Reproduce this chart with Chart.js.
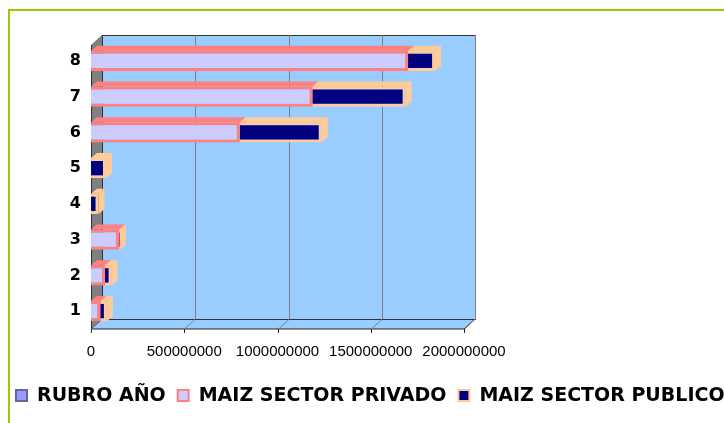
<!DOCTYPE html>
<html>
<head>
<meta charset="utf-8">
<script src="https://cdn.jsdelivr.net/npm/chart.js@4"></script>
<style>
  html, body { margin: 0; padding: 0; background: #fff; overflow: hidden; }
  #frame { position: absolute; left: 8px; top: 9px; width: 800px; height: 500px; border: 2px solid #99cc00; }
  #wrap { position: absolute; left: 0; top: 0; width: 724px; height: 423px; }
</style>
</head>
<body>
<div id="frame"></div>
<div id="wrap"><canvas id="chart" width="724" height="423"></canvas></div>
<script>
'use strict';

var categories = ['1', '2', '3', '4', '5', '6', '7', '8'];
var rubroAnio = [2000, 2001, 2002, 2003, 2004, 2005, 2006, 2007];
var maizPrivado = [50000000, 75000000, 150000000, 0, 0, 797000000, 1187000000, 1700000000];
var maizPublico = [35000000, 35000000, 5000000, 40000000, 80000000, 440000000, 500000000, 145000000];
var xTicks = [0, 500000000, 1000000000, 1500000000, 2000000000];

var ctx = document.getElementById('chart').getContext('2d');

// fake excel style 3d walls and bar sides
var walls3d = {
  id: 'walls3d',
  beforeDatasetsDraw: function (chart) {
    var a = chart.chartArea;
    var c = chart.ctx;
    var dx = 11, dy = -10;
    var top = a.top + 2, bot = a.bottom;
    c.save();
    // floor
    c.fillStyle = '#99ccff';
    c.strokeStyle = '#222';
    c.lineWidth = 1;
    c.beginPath();
    c.moveTo(a.left, bot);
    c.lineTo(a.right, bot);
    c.lineTo(a.right + dx, bot + dy);
    c.lineTo(a.left + dx, bot + dy);
    c.closePath();
    c.fill();
    c.stroke();
    // back wall
    c.fillStyle = '#99ccff';
    c.fillRect(a.left + dx, top + dy, a.width, bot - top);
    c.strokeStyle = '#333';
    c.strokeRect(a.left + dx + 0.5, top + dy + 0.5, a.width, bot - top);
    // grid lines
    var xs = chart.scales.x;
    c.strokeStyle = '#808080';
    for (var i = 1; i < xTicks.length; i++) {
      var px = Math.round(xs.getPixelForValue(xTicks[i])) + 0.5;
      c.beginPath();
      c.moveTo(px + dx, top + dy);
      c.lineTo(px + dx, bot + dy);
      c.lineTo(px, bot);
      c.stroke();
    }
    // tick marks under the floor
    c.strokeStyle = '#222';
    for (var k = 0; k < xTicks.length; k++) {
      var tx = Math.round(xs.getPixelForValue(xTicks[k])) + 0.5;
      c.beginPath();
      c.moveTo(tx, bot);
      c.lineTo(tx, bot + 4);
      c.stroke();
    }
    // left wall
    c.fillStyle = '#808080';
    c.beginPath();
    c.moveTo(a.left, top);
    c.lineTo(a.left + dx, top + dy);
    c.lineTo(a.left + dx, bot + dy);
    c.lineTo(a.left, bot);
    c.closePath();
    c.fill();
    c.strokeStyle = '#333';
    c.beginPath();
    c.moveTo(a.left + 0.5, top);
    c.lineTo(a.left + 0.5, bot + 4);
    c.stroke();
    // bar tops and sides
    var bx = 6, by = -5;
    chart.data.datasets.forEach(function (ds, di) {
      var meta = chart.getDatasetMeta(di);
      meta.data.forEach(function (bar) {
        var p = bar.getProps(['x', 'y', 'base', 'height'], true);
        if (p.x - p.base < 0.5) return;
        var t = p.y - p.height / 2;
        var b = p.y + p.height / 2;
        c.fillStyle = ds.borderColor;
        c.beginPath();
        c.moveTo(p.base, t);
        c.lineTo(p.x, t);
        c.lineTo(p.x + bx, t + by);
        c.lineTo(p.base + bx, t + by);
        c.closePath();
        c.fill();
        c.beginPath();
        c.moveTo(p.x, t);
        c.lineTo(p.x + bx, t + by);
        c.lineTo(p.x + bx, b + by);
        c.lineTo(p.x, b);
        c.closePath();
        c.fill();
      });
    });
    c.restore();
  }
};

// one-row legend along the bottom, like the excel one
var bottomLegend = {
  id: 'bottomLegend',
  afterDraw: function (chart) {
    var c = chart.ctx;
    var x = 16, y = 396;
    c.save();
    c.font = 'bold 19px "DejaVu Sans"';
    c.textBaseline = 'middle';
    chart.data.datasets.forEach(function (ds) {
      c.fillStyle = ds.backgroundColor;
      c.fillRect(x, y - 6, 11, 11);
      c.strokeStyle = ds.borderColor;
      c.lineWidth = 2;
      c.strokeRect(x, y - 6, 11, 11);
      c.fillStyle = '#000';
      c.fillText(ds.label, x + 21, y);
      x += 21 + c.measureText(ds.label).width + 12;
    });
    c.restore();
  }
};

new Chart(ctx, {
  type: 'bar',
  data: {
    labels: categories,
    datasets: [
      {
        label: 'RUBRO AÑO',
        data: rubroAnio,
        backgroundColor: '#9999ff',
        borderColor: '#666699',
        borderWidth: 2
      },
      {
        label: 'MAIZ SECTOR PRIVADO',
        data: maizPrivado,
        backgroundColor: '#ccccff',
        borderColor: '#ff8080',
        borderWidth: 3
      },
      {
        label: 'MAIZ SECTOR PUBLICO',
        data: maizPublico,
        backgroundColor: '#000080',
        borderColor: '#ffcc99',
        borderWidth: 3
      }
    ]
  },
  options: {
    indexAxis: 'y',
    responsive: false,
    animation: false,
    layout: { padding: { left: 0, top: 43, right: 0, bottom: 48 } },
    categoryPercentage: 1,
    barPercentage: 0.57,
    scales: {
      x: {
        stacked: true,
        min: 0,
        max: 2000000000,
        afterBuildTicks: function (scale) {
          scale.ticks = xTicks.map(function (v) { return { value: v }; });
        },
        grid: { display: false, drawTicks: false },
        border: { display: false },
        ticks: {
          color: '#000',
          padding: 14,
          maxRotation: 0,
          autoSkip: false,
          font: { family: 'Liberation Sans', size: 15 },
          callback: function (v) { return String(v); }
        }
      },
      y: {
        stacked: true,
        reverse: true,
        afterFit: function (scale) { scale.width = 91; },
        grid: { display: false, drawTicks: false },
        border: { display: false },
        ticks: {
          color: '#000',
          padding: 10,
          font: { family: 'DejaVu Sans', size: 16, weight: 'bold' }
        }
      },
      // empty axis that only keeps the right part of the canvas free
      spacer: {
        axis: 'y',
        type: 'linear',
        position: 'right',
        afterFit: function (scale) { scale.width = 260; },
        grid: { display: false },
        border: { display: false },
        ticks: { display: false }
      }
    },
    plugins: {
      legend: { display: false },
      tooltip: { enabled: false }
    }
  },
  plugins: [walls3d, bottomLegend]
});
</script>
</body>
</html>
